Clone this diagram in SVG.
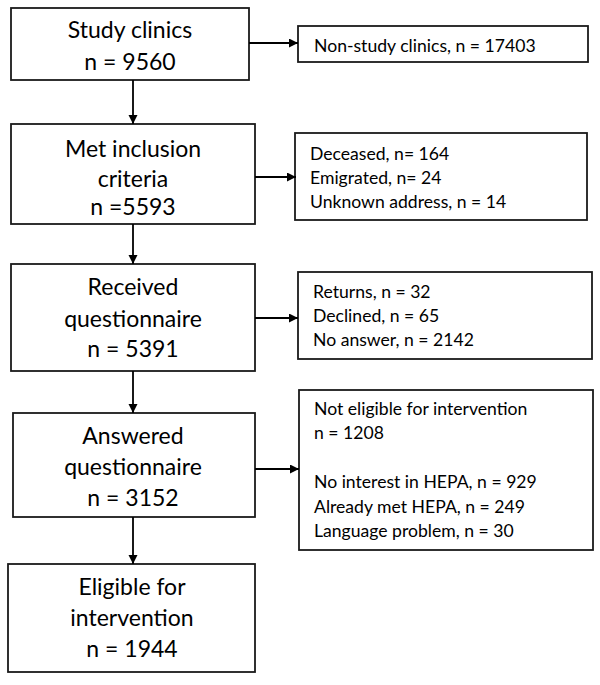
<svg xmlns="http://www.w3.org/2000/svg" width="600" height="685" viewBox="0 0 600 685">
<defs>
<marker id="ah" markerWidth="10" markerHeight="10" refX="9" refY="4.5" orient="auto" markerUnits="userSpaceOnUse">
<path d="M0,0 L9,4.5 L0,9 Z" fill="#000"/>
</marker>
<style>
rect{fill:#fff;stroke:#1a1a1a;stroke-width:1.8}
.m{font-family:Lato,"Open Sans","Liberation Sans",sans-serif;font-size:23px;fill:#000;text-anchor:middle}
.s{font-family:Lato,"Open Sans","Liberation Sans",sans-serif;font-size:17.6px;fill:#000}
#connectors line{stroke:#000;stroke-width:1.8;marker-end:url(#ah)}
</style>
</defs>
<rect x="0" y="0" width="600" height="685" style="fill:#fff;stroke:none"/>
<g id="study">
<rect x="11" y="8" width="238" height="72"/>
<text class="m" x="130" y="38">Study clinics</text>
<text class="m" x="130" y="70">n = 9560</text>
</g>
<g id="nonstudy">
<rect x="298" y="26" width="290" height="36"/>
<text class="s" x="314" y="52">Non-study clinics, n = 17403</text>
</g>
<g id="met">
<rect x="11" y="124" width="244" height="100"/>
<text class="m" x="133" y="157">Met inclusion</text>
<text class="m" x="133" y="187">criteria</text>
<text class="m" x="133" y="215">n =5593</text>
</g>
<g id="excluded1">
<rect x="295" y="133" width="292" height="87"/>
<text class="s" x="310" y="160">Deceased, n= 164</text>
<text class="s" x="310" y="184">Emigrated, n= 24</text>
<text class="s" x="310" y="208">Unknown address, n = 14</text>
</g>
<g id="received">
<rect x="11" y="264" width="244" height="107"/>
<text class="m" x="133" y="295">Received</text>
<text class="m" x="133" y="327">questionnaire</text>
<text class="m" x="133" y="357">n = 5391</text>
</g>
<g id="nonresponse">
<rect x="298" y="272" width="294" height="87"/>
<text class="s" x="313" y="298">Returns, n = 32</text>
<text class="s" x="313" y="322">Declined, n = 65</text>
<text class="s" x="313" y="346">No answer, n = 2142</text>
</g>
<g id="answered">
<rect x="13" y="413" width="242" height="104"/>
<text class="m" x="133" y="444">Answered</text>
<text class="m" x="133" y="475">questionnaire</text>
<text class="m" x="133" y="506">n = 3152</text>
</g>
<g id="noteligible">
<rect x="299" y="390" width="294" height="160"/>
<text class="s" x="314" y="415">Not eligible for intervention</text>
<text class="s" x="314" y="439">n = 1208</text>
<text class="s" x="314" y="488">No interest in HEPA, n = 929</text>
<text class="s" x="314" y="513">Already met HEPA, n = 249</text>
<text class="s" x="314" y="537">Language problem, n = 30</text>
</g>
<g id="eligible">
<rect x="8" y="564" width="247" height="108"/>
<text class="m" x="132" y="595">Eligible for</text>
<text class="m" x="132" y="626">intervention</text>
<text class="m" x="132" y="657">n = 1944</text>
</g>
<g id="connectors">
<line x1="249" y1="43" x2="298" y2="43"/>
<line x1="133" y1="80" x2="133" y2="124"/>
<line x1="255" y1="177" x2="296" y2="177"/>
<line x1="133" y1="224" x2="133" y2="264"/>
<line x1="255" y1="318" x2="298" y2="318"/>
<line x1="133" y1="371" x2="133" y2="413"/>
<line x1="255" y1="469" x2="299" y2="469"/>
<line x1="133" y1="517" x2="133" y2="564"/>
</g>
</svg>
